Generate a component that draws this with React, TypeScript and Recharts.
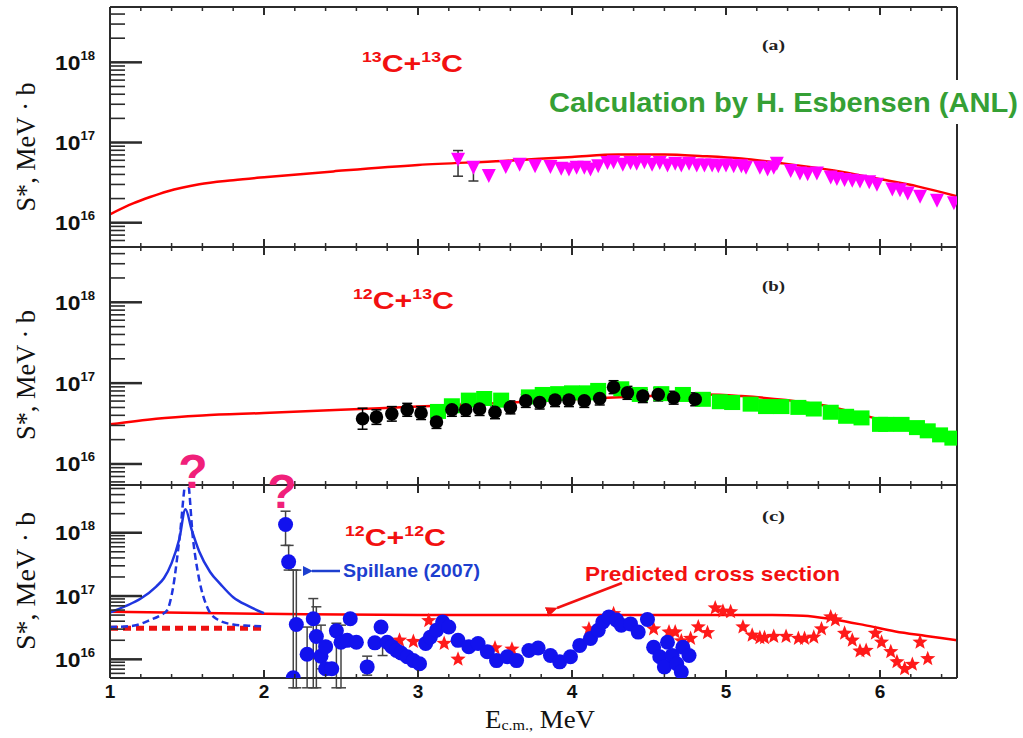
import React from "react";
import { ComposedChart, ErrorBar, Line, Scatter, XAxis, YAxis } from "recharts";

const SANS = "'Liberation Sans', Arial, sans-serif";
const SERIF = "'Liberation Serif', 'Times New Roman', serif";

const CHART_W = 1023;
const CHART_H = 738;
const PLOT_LEFT = 110;
const PLOT_RIGHT = 957;
const AXIS = "#2b2b2b";

// x ticks every 0.2 MeV, labelled at integers
const xTicks = [
  1, 1.2, 1.4, 1.6, 1.8, 2, 2.2, 2.4, 2.6, 2.8, 3, 3.2, 3.4, 3.6, 3.8, 4, 4.2,
  4.4, 4.6, 4.8, 5, 5.2, 5.4, 5.6, 5.8, 6, 6.2, 6.4,
];
const tickDecades = [15, 16, 17, 18];
const tickMantissas = [1, 2, 3, 4, 5, 6, 7, 8, 9];

// (a) 13C+13C  — values as log10(S*)
const aTheoryE = [1.0, 1.15, 1.26, 1.37, 1.58, 1.8, 2.02, 2.45, 3.0, 3.55, 4.0, 4.3, 4.6, 4.85, 5.1, 5.37, 5.7, 5.98, 6.25, 6.5];
const aTheoryLogS = [16.105, 16.24, 16.32, 16.39, 16.48, 16.53, 16.57, 16.64, 16.72, 16.77, 16.82, 16.85, 16.85, 16.83, 16.8, 16.74, 16.65, 16.55, 16.45, 16.33];

const aDataE = [
  3.26, 3.36, 3.46, 3.57, 3.66, 3.76, 3.86, 3.93, 3.98, 4.03, 4.08, 4.12, 4.17, 4.23, 4.27, 4.33, 4.38, 4.42,
  4.47, 4.52, 4.57, 4.62, 4.67, 4.71, 4.76, 4.81, 4.86, 4.91, 4.95, 5.0, 5.05, 5.1, 5.13, 5.22, 5.27, 5.31,
  5.33, 5.42, 5.48, 5.53, 5.59, 5.68, 5.72, 5.77, 5.82, 5.87, 5.93, 5.98, 6.08, 6.13, 6.18, 6.26, 6.37, 6.48,
];
const aDataLogS = [
  16.79, 16.69, 16.59, 16.7, 16.73, 16.71, 16.7, 16.68, 16.67, 16.69, 16.69, 16.67, 16.71, 16.75, 16.76, 16.73, 16.75, 16.74,
  16.76, 16.73, 16.75, 16.72, 16.74, 16.72, 16.74, 16.72, 16.72, 16.72, 16.71, 16.72, 16.71, 16.71, 16.69, 16.69, 16.67, 16.69,
  16.74, 16.65, 16.62, 16.61, 16.62, 16.57, 16.55, 16.54, 16.53, 16.52, 16.51, 16.48, 16.42, 16.41, 16.37, 16.33, 16.28, 16.25,
];
const aErrE = [3.26, 3.36];
const aErrLo = [16.58, 16.52];
const aErrHi = [16.9, 16.76];

// (b) 12C+13C
const bTheoryE = [1.0, 1.3, 1.6, 2.0, 2.5, 3.0, 3.5, 4.0, 4.5, 4.87, 5.1, 5.39, 5.7, 5.94, 6.2, 6.5];
const bTheoryLogS = [16.49, 16.56, 16.6, 16.63, 16.67, 16.71, 16.75, 16.8, 16.84, 16.86, 16.84, 16.79, 16.7, 16.58, 16.46, 16.32];

const bGreenE = [
  3.13, 3.22, 3.33, 3.43, 3.54, 3.72, 3.81, 3.91, 4.0, 4.1, 4.17, 4.32, 4.44, 4.58, 4.72, 4.85, 4.96,
  5.04, 5.16, 5.26, 5.36, 5.47, 5.57, 5.68, 5.78, 5.88, 6.0, 6.04, 6.14, 6.24, 6.31, 6.39, 6.47,
];
const bGreenLogS = [
  16.65, 16.72, 16.79, 16.81, 16.79, 16.83, 16.86, 16.87, 16.88, 16.88, 16.91, 16.93, 16.86, 16.87, 16.86, 16.8, 16.77,
  16.76, 16.74, 16.71, 16.71, 16.7, 16.68, 16.64, 16.59, 16.57, 16.49, 16.49, 16.49, 16.45, 16.41, 16.36, 16.32,
];

const bBlackE = [
  2.64, 2.73, 2.83, 2.93, 3.02, 3.12, 3.22, 3.31, 3.4, 3.5, 3.6, 3.7, 3.79, 3.89, 3.98, 4.08, 4.18, 4.27, 4.36, 4.46, 4.56, 4.66, 4.8,
];
const bBlackLogS = [
  16.56, 16.58, 16.62, 16.67, 16.63, 16.52, 16.67, 16.67, 16.68, 16.64, 16.7, 16.78, 16.76, 16.79, 16.79, 16.78, 16.81, 16.95, 16.88, 16.84, 16.86, 16.82, 16.8,
];
const bBlackErr = [
  0.13, 0.09, 0.09, 0.08, 0.08, 0.08, 0.08, 0.08, 0.08, 0.08, 0.08, 0.08, 0.08, 0.08, 0.08, 0.08, 0.08, 0.08, 0.08, 0.08, 0.08, 0.08, 0.08,
];

// (c) 12C+12C
const cTheoryE = [1.0, 2.0, 3.0, 4.0, 5.0, 5.3, 5.5, 5.7, 5.9, 6.1, 6.3, 6.5];
const cTheoryLogS = [16.75, 16.72, 16.7, 16.7, 16.7, 16.7, 16.69, 16.63, 16.54, 16.44, 16.37, 16.3];

const cFlatE = [1.0, 2.0];
const cFlatLogS = [16.49, 16.49];

const cWideE = [1.0, 1.1, 1.2, 1.3, 1.35, 1.4, 1.45, 1.49, 1.53, 1.58, 1.65, 1.72, 1.8, 1.9, 2.0];
const cWideLogS = [16.74, 16.84, 16.96, 17.15, 17.28, 17.52, 17.9, 18.37, 18.05, 17.7, 17.38, 17.18, 16.98, 16.84, 16.73];

const cNarrowE = [1.0, 1.15, 1.26, 1.33, 1.37, 1.41, 1.45, 1.5, 1.54, 1.58, 1.63, 1.69, 1.8, 1.9, 2.0];
const cNarrowLogS = [16.51, 16.53, 16.62, 16.7, 16.77, 17.14, 17.88, 18.9, 17.88, 17.25, 16.83, 16.64, 16.55, 16.53, 16.52];

const cSpillaneE = [
  2.14, 2.16, 2.19, 2.21, 2.28, 2.32, 2.34, 2.37, 2.4, 2.4, 2.44, 2.47, 2.5, 2.54, 2.56, 2.6, 2.67, 2.72, 2.76, 2.8, 2.83,
  2.86, 2.89, 2.93, 2.97, 3.01, 3.05, 3.08, 3.12, 3.16, 3.2, 3.26, 3.33, 3.39, 3.45, 3.51, 3.58, 3.64, 3.72, 3.78, 3.86,
  3.92, 3.99, 4.05, 4.12, 4.17, 4.2, 4.24, 4.29, 4.32, 4.38, 4.43, 4.49, 4.53, 4.57, 4.6, 4.62, 4.65, 4.68, 4.71, 4.72, 4.76,
];
const cSpillaneLogS = [
  18.13, 17.54, 15.71, 16.55, 16.08, 16.64, 16.36, 16.05, 16.2, 15.85, 15.85, 16.45, 16.27, 16.3, 16.64, 16.27, 15.88, 16.26, 16.51, 16.27, 16.2,
  16.14, 16.1, 16.04, 15.98, 15.93, 16.25, 16.35, 16.46, 16.59, 16.51, 16.3, 16.2, 16.25, 16.12, 15.98, 16.04, 15.98, 16.14, 16.18, 16.06,
  15.96, 16.04, 16.22, 16.33, 16.46, 16.59, 16.67, 16.62, 16.54, 16.56, 16.43, 16.63, 16.19, 16.04, 15.88, 16.27, 16.06, 15.93, 15.8, 16.19, 16.06,
];
const cErrE = [2.14, 2.16, 2.19, 2.21, 2.28, 2.32, 2.34, 2.37, 2.47, 2.5, 2.67, 2.77];
const cErrLo = [17.8, 17.41, 15.55, 15.55, 15.55, 15.55, 15.55, 15.85, 15.55, 15.55, 15.75, 16.06];
const cErrHi = [18.34, 17.8, 17.41, 17.41, 16.51, 16.96, 16.83, 16.54, 16.57, 16.54, 16.05, 16.24];

const cStarE = [
  2.88, 2.97, 3.07, 3.17, 3.26, 3.5, 3.61, 4.11, 4.27, 4.53, 4.63, 4.67, 4.71, 4.77, 4.82, 4.88, 4.93, 4.98, 5.03, 5.11, 5.17, 5.22,
  5.25, 5.31, 5.39, 5.47, 5.51, 5.57, 5.62, 5.68, 5.71, 5.77, 5.82, 5.87, 5.91, 5.97, 6.01, 6.07, 6.11, 6.16, 6.21, 6.26, 6.31,
];
const cStarLogS = [
  16.3, 16.28, 16.61, 16.25, 16.0, 16.18, 16.16, 16.48, 16.72, 16.48, 16.43, 16.43, 16.29, 16.33, 16.51, 16.42, 16.81, 16.76, 16.75, 16.51, 16.38, 16.34,
  16.34, 16.36, 16.36, 16.33, 16.33, 16.35, 16.48, 16.67, 16.62, 16.41, 16.3, 16.13, 16.14, 16.41, 16.27, 16.12, 15.96, 15.85, 15.92, 16.27, 16.01,
];

const curve = (es: number[], logs: number[]) => es.map((E, i) => ({ E, S: 10 ** logs[i] }));

const bars = (es: number[], lo: number[], hi: number[]) =>
  es.map((E, i) => ({ E, S: 10 ** lo[i], err: [0, 10 ** hi[i] - 10 ** lo[i]] }));

const withErr = (es: number[], logs: number[], e: number[]) =>
  es.map((E, i) => {
    const s = 10 ** logs[i];
    return { E, S: s, err: [s - 10 ** (logs[i] - e[i]), 10 ** (logs[i] + e[i]) - s] };
  });

function logTicks(lo: number, hi: number) {
  const out: number[] = [];
  tickDecades.forEach((d) =>
    tickMantissas.forEach((m) => {
      const l = Math.log10(m) + d;
      if (l > lo + 0.02 && l < hi - 0.02) out.push(m * 10 ** d);
    })
  );
  return out;
}

function starPoints(cx: number, cy: number, R: number, r: number) {
  const pts: string[] = [];
  for (let k = 0; k < 10; k++) {
    const a = -Math.PI / 2 + (k * Math.PI) / 5;
    const rad = k % 2 === 0 ? R : r;
    pts.push(`${cx + rad * Math.cos(a)},${cy + rad * Math.sin(a)}`);
  }
  return pts.join(" ");
}

const TriangleDown = (p: any) => (
  <polygon
    points={`${p.cx - 7},${p.cy - 6.5} ${p.cx + 7},${p.cy - 6.5} ${p.cx},${p.cy + 7.5}`}
    fill="#ff00ff"
  />
);
const GreenSquare = (p: any) => <rect x={p.cx - 8} y={p.cy - 7.5} width={16} height={15} fill="#00ff00" />;
const BlackDot = (p: any) => <circle cx={p.cx} cy={p.cy} r={6.8} fill="#000" />;
const BlueDot = (p: any) => <circle cx={p.cx} cy={p.cy} r={7.5} fill="#1212ee" />;
const RedStar = (p: any) => <polygon points={starPoints(p.cx, p.cy, 8, 3.4)} fill="#ff1a1a" />;
const NoShape = () => <g />;

function XTick(props: any) {
  const { x, payload, top, bottom, showLabel } = props;
  const v = payload.value as number;
  const major = Math.abs(v - Math.round(v)) < 1e-6;
  const len = major ? 8 : 4;
  const w = major ? 2 : 1.5;
  return (
    <g>
      <line x1={x} x2={x} y1={bottom} y2={bottom - len} stroke={AXIS} strokeWidth={w} />
      <line x1={x} x2={x} y1={top} y2={top + len} stroke={AXIS} strokeWidth={w} />
      {showLabel && major && (
        <text x={x} y={bottom + 20} textAnchor="middle" fontFamily={SANS} fontWeight="bold" fontSize={19} fill="#111">
          {Math.round(v)}
        </text>
      )}
    </g>
  );
}

function YTick(props: any) {
  const { y, payload } = props;
  const lg = Math.log10(payload.value);
  const major = Math.abs(lg - Math.round(lg)) < 1e-6;
  return (
    <g>
      <line
        x1={PLOT_LEFT}
        x2={PLOT_LEFT + (major ? 32 : 15)}
        y1={y}
        y2={y}
        stroke={AXIS}
        strokeWidth={major ? 2.5 : 1.6}
      />
      {major && (
        <text
          x={55}
          y={y + 7.5}
          fontFamily={SANS}
          fontWeight="bold"
          fontSize={21}
          fill="#111"
          textLength={40}
          lengthAdjust="spacingAndGlyphs"
        >
          10
          <tspan fontSize={12} dy={-10}>
            {Math.round(lg)}
          </tspan>
        </text>
      )}
    </g>
  );
}

type PanelProps = {
  top: number;
  bottom: number;
  logMin: number;
  logMax: number;
  showXLabels?: boolean;
  children: React.ReactNode;
};

function Panel({ top, bottom, logMin, logMax, showXLabels = false, children }: PanelProps) {
  const frame = { stroke: AXIS, strokeWidth: 2 };
  return (
    <div style={{ position: "absolute", left: 0, top: 0 }}>
      <ComposedChart
        width={CHART_W}
        height={CHART_H}
        margin={{ top: top - 1, right: CHART_W - PLOT_RIGHT - 1, bottom: CHART_H - bottom - 1, left: 0 }}
      >
        <XAxis
          dataKey="E"
          type="number"
          domain={[1, 6.5]}
          allowDataOverflow
          ticks={xTicks}
          interval={0}
          height={1}
          axisLine={frame}
          tickLine={false}
          tick={(p: any) => <XTick {...p} top={top} bottom={bottom} showLabel={showXLabels} />}
        />
        <XAxis
          xAxisId="top"
          orientation="top"
          type="number"
          domain={[1, 6.5]}
          allowDataOverflow
          height={1}
          tick={false}
          tickLine={false}
          axisLine={frame}
        />
        <YAxis
          type="number"
          scale="log"
          domain={[10 ** logMin, 10 ** logMax]}
          allowDataOverflow
          ticks={logTicks(logMin, logMax)}
          interval={0}
          width={PLOT_LEFT}
          axisLine={frame}
          tickLine={false}
          tick={(p: any) => <YTick {...p} />}
        />
        <YAxis
          yAxisId="right"
          orientation="right"
          type="number"
          domain={[0, 1]}
          allowDataOverflow
          width={1}
          tick={false}
          tickLine={false}
          axisLine={frame}
        />
        {children}
      </ComposedChart>
    </div>
  );
}

function Overlay() {
  const red = "#f21010";
  const blue = "#1d3fcf";
  const qColor = "#f0207a";
  const yTitle = (cy: number, len: number) => (
    <text
      transform={`translate(35, ${cy}) rotate(-90)`}
      textAnchor="middle"
      fontFamily={SERIF}
      fontSize={27}
      fill="#111"
      textLength={len}
      lengthAdjust="spacingAndGlyphs"
    >
      S*, MeV · b
    </text>
  );
  const title = (x: number, y: number, a: string, b: string) => (
    <text x={x} y={y} fill={red} fontFamily={SANS} fontWeight="bold" fontSize={24} textLength={101} lengthAdjust="spacingAndGlyphs">
      <tspan fontSize={14} dy={-10}>{a}</tspan>
      <tspan dy={10}>C+</tspan>
      <tspan fontSize={14} dy={-10}>{b}</tspan>
      <tspan dy={10}>C</tspan>
    </text>
  );
  const tag = (y: number, s: string) => (
    <text x={762} y={y} fontFamily={SERIF} fontWeight="bold" fontSize={15} fill="#222" textLength={23} lengthAdjust="spacingAndGlyphs">
      {s}
    </text>
  );
  return (
    <svg width={CHART_W} height={CHART_H} style={{ position: "absolute", left: 0, top: 0, pointerEvents: "none" }}>
      <defs>
        <marker id="arrowBlue" markerWidth="10" markerHeight="10" refX="1" refY="5" orient="auto" markerUnits="userSpaceOnUse">
          <path d="M10,0 L0,5 L10,10 z" fill={blue} />
        </marker>
        <marker id="arrowRed" markerWidth="12" markerHeight="10" refX="1" refY="5" orient="auto" markerUnits="userSpaceOnUse">
          <path d="M12,0 L0,5 L12,10 z" fill={red} />
        </marker>
      </defs>

      {yTitle(147, 129)}
      {yTitle(375, 130)}
      {yTitle(581, 138)}

      {title(362, 72, "13", "13")}
      {title(353, 309, "12", "13")}
      {title(345, 546, "12", "12")}

      {tag(50, "(a)")}
      {tag(291, "(b)")}
      {tag(521, "(c)")}

      <rect x={545} y={80} width={478} height={44} fill="#fff" />
      <text x={549} y={112} fontFamily={SANS} fontWeight="bold" fontSize={27} fill="#35a035" textLength={469} lengthAdjust="spacingAndGlyphs">
        Calculation by H. Esbensen (ANL)
      </text>

      <line x1={340} y1={571} x2={312} y2={571} stroke={blue} strokeWidth={2.5} markerEnd="url(#arrowBlue)" />
      <text x={343} y={577} fontFamily={SANS} fontWeight="bold" fontSize={18} fill={blue} textLength={137} lengthAdjust="spacingAndGlyphs">
        Spillane (2007)
      </text>

      <line x1={622} y1={583} x2={557} y2={608} stroke={red} strokeWidth={2.5} markerEnd="url(#arrowRed)" />
      <text x={585} y={581} fontFamily={SANS} fontWeight="bold" fontSize={21} fill={red} textLength={255} lengthAdjust="spacingAndGlyphs">
        Predicted cross section
      </text>

      <text x={193} y={488} textAnchor="middle" fontFamily={SANS} fontWeight="bold" fontSize={48} fill={qColor}>?</text>
      <text x={282} y={508} textAnchor="middle" fontFamily={SANS} fontWeight="bold" fontSize={48} fill={qColor}>?</text>

      <text x={485} y={728} fontFamily={SERIF} fontSize={25} fill="#111" textLength={110} lengthAdjust="spacingAndGlyphs">
        E
        <tspan fontSize={15} dy={2}>c.m.,</tspan>
        <tspan dy={-2}> MeV</tspan>
      </text>
    </svg>
  );
}

export default function App() {
  return (
    <div style={{ position: "absolute", left: 0, top: 0, width: CHART_W, height: CHART_H, background: "#fff" }}>
      <Panel top={7} bottom={247} logMin={15.697} logMax={18.69}>
        <Line data={curve(aTheoryE, aTheoryLogS)} dataKey="S" type="monotone" stroke="#ff0000" strokeWidth={2.5} dot={false} isAnimationActive={false} />
        <Scatter data={bars(aErrE, aErrLo, aErrHi)} dataKey="S" shape={NoShape} isAnimationActive={false}>
          <ErrorBar dataKey="err" direction="y" width={5} stroke="#333" strokeWidth={1.5} />
        </Scatter>
        <Scatter data={curve(aDataE, aDataLogS)} dataKey="S" shape={TriangleDown} isAnimationActive={false} />
      </Panel>

      <Panel top={247} bottom={485} logMin={15.74} logMax={18.684}>
        <Line data={curve(bTheoryE, bTheoryLogS)} dataKey="S" type="monotone" stroke="#ff0000" strokeWidth={2.5} dot={false} isAnimationActive={false} />
        <Scatter data={curve(bGreenE, bGreenLogS)} dataKey="S" shape={GreenSquare} isAnimationActive={false} />
        <Scatter data={withErr(bBlackE, bBlackLogS, bBlackErr)} dataKey="S" shape={BlackDot} isAnimationActive={false}>
          <ErrorBar dataKey="err" direction="y" width={5} stroke="#000" strokeWidth={1.5} />
        </Scatter>
      </Panel>

      <Panel top={485} bottom={678} logMin={15.705} logMax={18.754} showXLabels>
        <Line data={curve(cTheoryE, cTheoryLogS)} dataKey="S" type="monotone" stroke="#ff0000" strokeWidth={2.5} dot={false} isAnimationActive={false} />
        <Line data={curve(cFlatE, cFlatLogS)} dataKey="S" type="linear" stroke="#ee1111" strokeWidth={5} strokeDasharray="8 5" dot={false} isAnimationActive={false} />
        <Line data={curve(cWideE, cWideLogS)} dataKey="S" type="monotone" stroke="#1f35e0" strokeWidth={2.5} dot={false} isAnimationActive={false} />
        <Line data={curve(cNarrowE, cNarrowLogS)} dataKey="S" type="monotone" stroke="#1f35e0" strokeWidth={2.5} strokeDasharray="7 4" dot={false} isAnimationActive={false} />
        <Scatter data={bars(cErrE, cErrLo, cErrHi)} dataKey="S" shape={NoShape} isAnimationActive={false}>
          <ErrorBar dataKey="err" direction="y" width={5} stroke="#444" strokeWidth={1.5} />
        </Scatter>
        <Scatter data={curve(cStarE, cStarLogS)} dataKey="S" shape={RedStar} isAnimationActive={false} />
        <Scatter data={curve(cSpillaneE, cSpillaneLogS)} dataKey="S" shape={BlueDot} isAnimationActive={false} />
      </Panel>

      <Overlay />
    </div>
  );
}
